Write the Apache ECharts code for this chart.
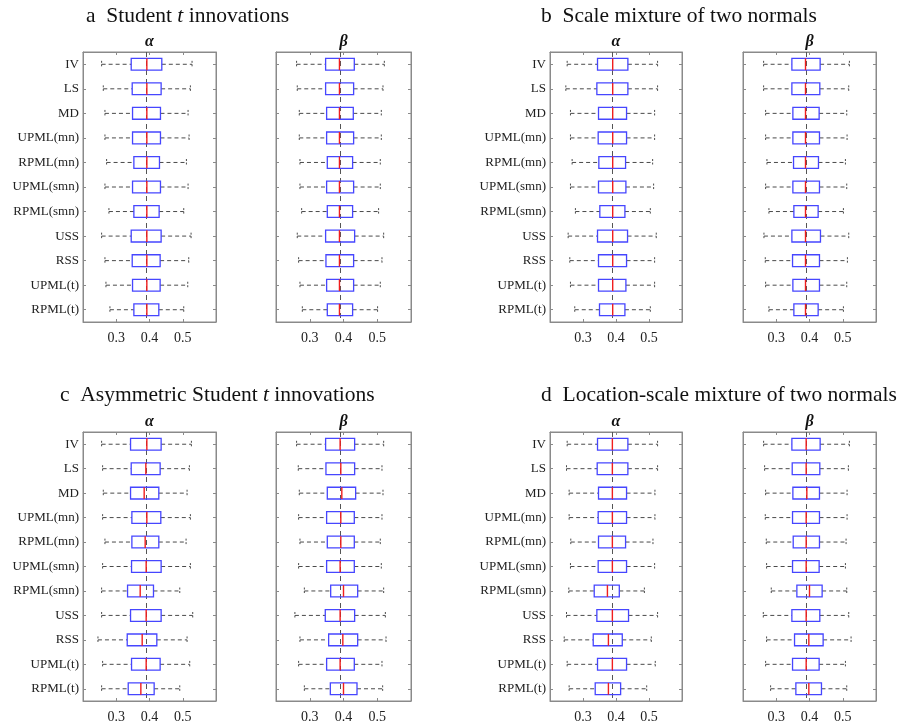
<!DOCTYPE html>
<html><head><meta charset="utf-8">
<script src="https://cdn.jsdelivr.net/npm/echarts@6/dist/echarts.min.js"></script>
<style>html,body{margin:0;padding:0;background:#fff}#c{width:898px;height:724px}</style>
</head><body><div id="c"></div>
<script>
// ---------------- data ----------------
const methods = ['IV','LS','MD','UPML(mn)','RPML(mn)','UPML(smn)','RPML(smn)','USS','RSS','UPML(t)','RPML(t)'];
const xTickValues = [0.3, 0.4, 0.5];
const trueValue = 0.39;
const panelLetters = ['a','b','c','d'];
const panelTitles = ['Student {i|t} innovations','Scale mixture of two normals','Asymmetric Student {i|t} innovations','Location-scale mixture of two normals'];
const paramNames = ['α','β'];
// each row: [lower whisker, Q1, median, Q3, upper whisker]
const a_alpha = [
  [0.256,0.345,0.392,0.437,0.528],[0.261,0.348,0.392,0.435,0.523],[0.266,0.349,0.392,0.433,0.516],
  [0.266,0.349,0.392,0.433,0.519],[0.271,0.353,0.392,0.430,0.511],[0.266,0.349,0.392,0.433,0.516],
  [0.278,0.353,0.392,0.429,0.503],[0.256,0.345,0.392,0.435,0.525],[0.266,0.348,0.392,0.432,0.518],
  [0.269,0.349,0.392,0.432,0.515],[0.281,0.353,0.392,0.428,0.503]];
const a_beta = [
  [0.261,0.347,0.388,0.432,0.521],[0.263,0.347,0.388,0.430,0.517],[0.269,0.350,0.388,0.429,0.512],
  [0.269,0.350,0.388,0.430,0.512],[0.271,0.352,0.388,0.427,0.509],[0.271,0.350,0.388,0.430,0.509],
  [0.276,0.352,0.388,0.427,0.504],[0.263,0.347,0.388,0.433,0.519],[0.267,0.348,0.388,0.430,0.514],
  [0.271,0.350,0.388,0.430,0.509],[0.278,0.352,0.388,0.427,0.501]];
const b_alpha = [
  [0.252,0.344,0.390,0.436,0.526],[0.248,0.342,0.390,0.436,0.526],[0.262,0.347,0.390,0.432,0.517],
  [0.262,0.346,0.390,0.432,0.517],[0.267,0.348,0.390,0.429,0.511],[0.262,0.347,0.390,0.430,0.514],
  [0.277,0.351,0.390,0.427,0.504],[0.255,0.344,0.390,0.435,0.522],[0.260,0.347,0.390,0.432,0.517],
  [0.262,0.347,0.390,0.430,0.517],[0.275,0.350,0.390,0.427,0.504]];
const b_beta = [
  [0.262,0.347,0.388,0.432,0.520],[0.262,0.347,0.388,0.431,0.518],[0.268,0.350,0.388,0.429,0.512],
  [0.268,0.350,0.388,0.430,0.513],[0.272,0.352,0.388,0.427,0.508],[0.268,0.350,0.388,0.430,0.512],
  [0.278,0.353,0.388,0.426,0.502],[0.263,0.347,0.388,0.433,0.518],[0.267,0.349,0.388,0.430,0.514],
  [0.268,0.350,0.388,0.430,0.512],[0.278,0.353,0.388,0.426,0.502]];
const c_alpha = [
  [0.256,0.343,0.392,0.435,0.526],[0.259,0.345,0.389,0.432,0.520],[0.261,0.343,0.384,0.428,0.513],
  [0.259,0.347,0.392,0.434,0.523],[0.266,0.347,0.387,0.428,0.510],[0.259,0.346,0.390,0.435,0.523],
  [0.256,0.334,0.372,0.412,0.491],[0.256,0.343,0.390,0.435,0.530],[0.245,0.333,0.378,0.422,0.513],
  [0.259,0.346,0.390,0.432,0.521],[0.256,0.336,0.374,0.414,0.491]];
const c_beta = [
  [0.261,0.347,0.390,0.433,0.519],[0.266,0.348,0.392,0.433,0.514],[0.269,0.352,0.395,0.436,0.517],
  [0.267,0.350,0.392,0.432,0.514],[0.271,0.352,0.392,0.432,0.509],[0.267,0.350,0.390,0.432,0.512],
  [0.284,0.362,0.400,0.442,0.519],[0.256,0.346,0.390,0.433,0.524],[0.271,0.356,0.398,0.442,0.526],
  [0.267,0.350,0.390,0.432,0.514],[0.284,0.361,0.400,0.440,0.516]];
const d_alpha = [
  [0.252,0.344,0.389,0.436,0.526],[0.250,0.343,0.389,0.436,0.526],[0.258,0.347,0.389,0.432,0.518],
  [0.258,0.346,0.389,0.432,0.518],[0.263,0.347,0.389,0.429,0.512],[0.262,0.346,0.389,0.432,0.517],
  [0.257,0.334,0.374,0.410,0.486],[0.250,0.342,0.389,0.438,0.526],[0.243,0.331,0.377,0.419,0.507],
  [0.252,0.344,0.389,0.432,0.519],[0.258,0.337,0.377,0.414,0.493]];
const d_beta = [
  [0.262,0.347,0.390,0.432,0.520],[0.265,0.348,0.390,0.431,0.517],[0.268,0.350,0.392,0.430,0.513],
  [0.267,0.349,0.390,0.430,0.513],[0.270,0.351,0.390,0.430,0.510],[0.271,0.349,0.390,0.429,0.508],
  [0.285,0.362,0.400,0.438,0.512],[0.261,0.347,0.390,0.431,0.518],[0.271,0.355,0.398,0.441,0.525],
  [0.268,0.349,0.390,0.429,0.508],[0.283,0.359,0.398,0.436,0.512]];
const subplotData = [a_alpha, a_beta, b_alpha, b_beta, c_alpha, c_beta, d_alpha, d_beta];

// ---------------- layout / style ----------------
const SERIF = "'Liberation Serif','DejaVu Serif',serif";
const gridPos = [[83,52,133],[276,52,135],[550,52,132],[743,52,133],[83,432,133],[276,432,135],[550,432,132],[743,432,133]];
const gridH = 270;
const frameColor = '#8a8a8a';
const titlePos = [[86,5],[541,5],[60,384],[541,384]];

function renderItem(params, api) {
  const c = api.value(0);
  const v = [1,2,3,4,5].map(k => api.value(k));
  const p = v.map(x => api.coord([x, c]));
  const y = p[0][1];
  const band = api.size([0, 1])[1];
  const bh = band * 0.48, ch = band * 0.28;
  const dash = {stroke:'#4a4a4a', lineWidth:1, lineDash:[4,3], fill:null};
  const cap = {stroke:'#4a4a4a', lineWidth:1, lineDash:[2,1.5], fill:null};
  return {type:'group', children:[
    {type:'line', shape:{x1:p[0][0],y1:y,x2:p[1][0],y2:y}, style:dash},
    {type:'line', shape:{x1:p[3][0],y1:y,x2:p[4][0],y2:y}, style:dash},
    {type:'line', shape:{x1:p[0][0],y1:y-ch/2,x2:p[0][0],y2:y+ch/2}, style:cap},
    {type:'line', shape:{x1:p[4][0],y1:y-ch/2,x2:p[4][0],y2:y+ch/2}, style:cap},
    {type:'rect', shape:{x:p[1][0], y:y-bh/2, width:p[3][0]-p[1][0], height:bh}, style:{stroke:'#4646ff', fill:null, lineWidth:1.3}},
    {type:'line', shape:{x1:p[2][0],y1:y-bh/2,x2:p[2][0],y2:y+bh/2}, style:{stroke:'#f01e1e', lineWidth:1.4}}
  ]};
}

const grid = [], xAxis = [], yAxis = [], series = [], graphic = [];
gridPos.forEach((g, i) => {
  grid.push({left:g[0], top:g[1], width:g[2], height:gridH, show:true, borderColor:frameColor, borderWidth:1, backgroundColor:'transparent'});
  const xBase = {gridIndex:i, type:'value', min:0.2, max:0.6, interval:0.1,
    axisLine:{show:true, lineStyle:{color:frameColor, width:1}},
    axisTick:{show:true, inside:true, length:3, lineStyle:{color:frameColor}},
    splitLine:{show:false}};
  xAxis.push(Object.assign({}, xBase, {position:'bottom',
    axisLabel:{show:true, showMinLabel:false, showMaxLabel:false, margin:9, color:'#222', fontFamily:SERIF, fontSize:14,
      formatter: v => xTickValues.some(t => Math.abs(t - v) < 1e-6) ? v.toFixed(1) : ''}}));
  xAxis.push(Object.assign({}, xBase, {position:'top', axisLabel:{show:false}}));
  const yBase = {gridIndex:i, type:'category', data:methods, inverse:true,
    axisLine:{show:true, lineStyle:{color:frameColor, width:1}},
    axisTick:{show:true, inside:true, alignWithLabel:true, length:3, lineStyle:{color:frameColor}},
    splitLine:{show:false}};
  yAxis.push(Object.assign({}, yBase, {position:'left',
    axisLabel:{show: i % 2 === 0, margin:4, color:'#222', fontFamily:SERIF, fontSize:13}}));
  yAxis.push(Object.assign({}, yBase, {position:'right', axisLabel:{show:false}}));
  series.push({
    type:'custom', xAxisIndex:2*i, yAxisIndex:2*i, renderItem,
    encode:{x:[1,2,3,4,5], y:0},
    data: subplotData[i].map((d, k) => [k].concat(d)),
    markLine:{silent:true, symbol:'none', label:{show:false}, z:1,
      lineStyle:{type:[5,4], color:'#555', width:1},
      data:[{xAxis:trueValue}]},
    z:3
  });
  graphic.push({type:'text', x:g[0]+g[2]/2, y:g[1]-2,
    style:{text:paramNames[i%2], align:'center', verticalAlign:'bottom', textAlign:'center', textVerticalAlign:'bottom',
      fontFamily:SERIF, fontSize:16, fontStyle:'italic', fontWeight:'bold', fill:'#111'}});
});
panelLetters.forEach((l, j) => {
  graphic.push({type:'text', x:titlePos[j][0], y:titlePos[j][1],
    style:{text:l + '  ' + panelTitles[j], fontFamily:SERIF, fontSize:21.5, fill:'#111',
      rich:{i:{fontStyle:'italic', fontFamily:SERIF, fontSize:21.5, fill:'#111'}}}});
});

const chart = echarts.init(document.getElementById('c'), null, {renderer:'canvas'});
chart.setOption({animation:false, backgroundColor:'#fff', grid, xAxis, yAxis, series, graphic});
</script></body></html>
